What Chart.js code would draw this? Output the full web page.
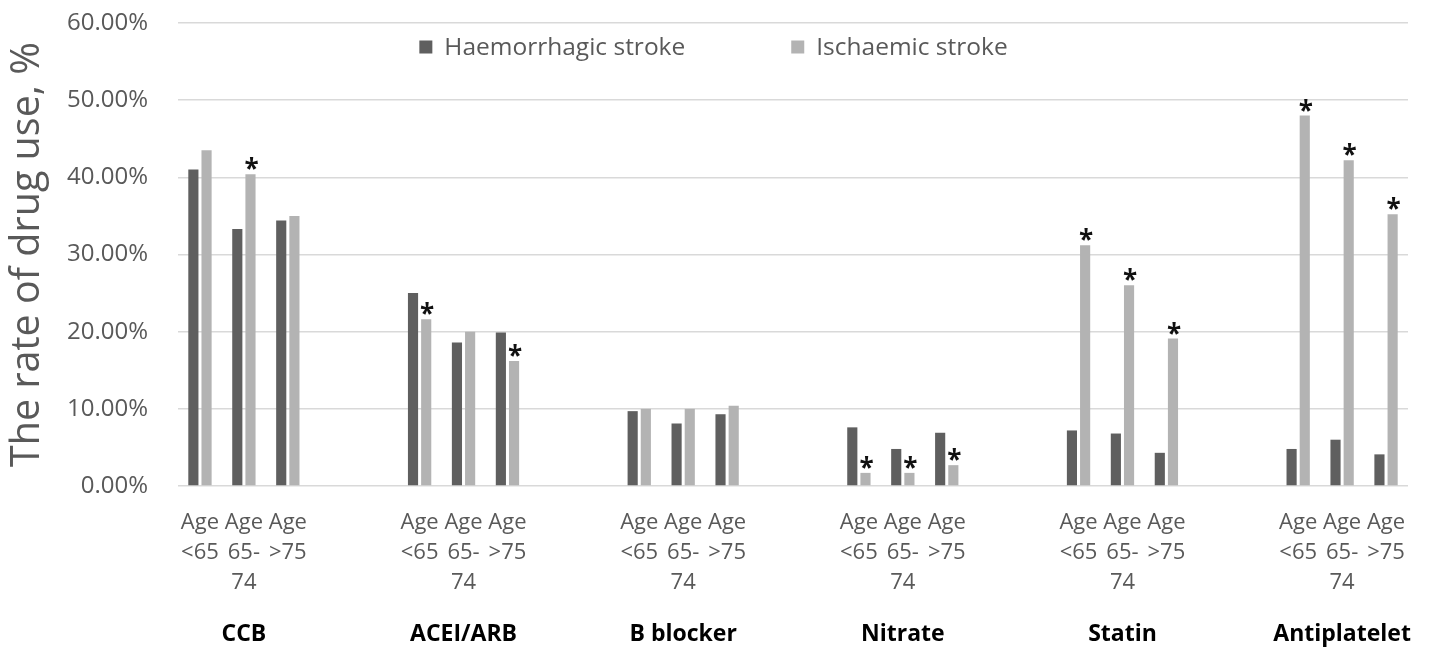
<!DOCTYPE html>
<html>
<head>
<meta charset="utf-8">
<script src="https://cdn.jsdelivr.net/npm/chart.js@4"></script>
<style>
  html, body { margin: 0; padding: 0; background: #fff; }
  #wrap { width: 1441px; height: 648px; }
</style>
</head>
<body>
<div id="wrap"><canvas id="myChart"></canvas></div>
<script>
// drug classes and age bands
const groups = ['CCB', 'ACEI/ARB', 'B blocker', 'Nitrate', 'Statin', 'Antiplatelet'];
const ageLabels = [['Age', '<65'], ['Age', '65-', '74'], ['Age', '>75']];

// rate of drug use (%) per group, per age band
const haemorrhagic = [
  [41.0, 33.3, 34.4],
  [25.0, 18.6, 19.9],
  [9.7, 8.1, 9.3],
  [7.6, 4.8, 6.9],
  [7.2, 6.8, 4.3],
  [4.8, 6.0, 4.1]
];
const ischaemic = [
  [43.5, 40.4, 35.0],
  [21.6, 20.0, 16.2],
  [10.0, 10.0, 10.4],
  [1.7, 1.7, 2.7],
  [31.2, 26.0, 19.1],
  [48.0, 42.2, 35.2]
];
// * marks on the ischaemic bars
const significant = [
  [0, 1, 0],
  [1, 0, 1],
  [0, 0, 0],
  [1, 1, 1],
  [1, 1, 1],
  [1, 1, 1]
];
const yMax = 60;
const yStep = 10;

const FONT = "'Open Sans', sans-serif";
const GREY_TEXT = '#595959';

// flatten, leaving two empty slots between groups
let xLabels = [], groupLabels = [], hData = [], iData = [], sigFlat = [];
groups.forEach((g, gi) => {
  ageLabels.forEach((a, ai) => {
    xLabels.push(a);
    groupLabels.push(ai === 1 ? g : '');
    hData.push(haemorrhagic[gi][ai]);
    iData.push(ischaemic[gi][ai]);
    sigFlat.push(significant[gi][ai]);
  });
  if (gi < groups.length - 1) {
    for (let k = 0; k < 2; k++) {
      xLabels.push('');
      groupLabels.push('');
      hData.push(null);
      iData.push(null);
      sigFlat.push(0);
    }
  }
});

const starPlugin = {
  id: 'stars',
  afterDatasetsDraw(chart) {
    const ctx = chart.ctx;
    const meta = chart.getDatasetMeta(1);
    ctx.save();
    ctx.font = 'bold 26px ' + FONT;
    ctx.fillStyle = '#111';
    ctx.textAlign = 'center';
    ctx.textBaseline = 'alphabetic';
    const m = ctx.measureText('*');
    meta.data.forEach((bar, i) => {
      if (!sigFlat[i] || iData[i] == null) return;
      ctx.fillText('*', bar.x + 1, bar.y - 4 - m.actualBoundingBoxDescent);
    });
    ctx.restore();
  }
};

const legendPlugin = {
  id: 'innerLegend',
  afterDraw(chart) {
    const ctx = chart.ctx;
    const box = 13, textGap = 12, itemGap = 106;
    ctx.save();
    ctx.font = '24.5px ' + FONT;
    const items = chart.data.datasets.map(d => ({
      label: d.label, color: d.backgroundColor, w: ctx.measureText(d.label).width
    }));
    let total = items.reduce((s, it) => s + box + textGap + it.w, 0) + itemGap * (items.length - 1);
    let x = chart.width / 2 - 7 - total / 2;
    const y = chart.chartArea.top + 24;
    ctx.textBaseline = 'middle';
    items.forEach(it => {
      ctx.fillStyle = it.color;
      ctx.fillRect(x, y - box / 2, box, box);
      ctx.fillStyle = GREY_TEXT;
      ctx.fillText(it.label, x + box + textGap, y + 1);
      x += box + textGap + it.w + itemGap;
    });
    ctx.restore();
  }
};

const ctx = document.getElementById('myChart').getContext('2d');
const myChart = new Chart(ctx, {
  type: 'bar',
  data: {
    labels: xLabels,
    datasets: [
      {
        label: 'Haemorrhagic stroke',
        data: hData,
        backgroundColor: '#5f5f5f',
        categoryPercentage: 0.6,
        barPercentage: 0.77
      },
      {
        label: 'Ischaemic stroke',
        data: iData,
        backgroundColor: '#b3b3b3',
        categoryPercentage: 0.6,
        barPercentage: 0.77
      }
    ]
  },
  options: {
    responsive: true,
    maintainAspectRatio: false,
    animation: false,
    layout: { padding: { top: 23, right: 33, left: 0, bottom: 0 } },
    plugins: {
      legend: { display: false },
      tooltip: { enabled: false }
    },
    scales: {
      x: {
        offset: true,
        grid: { display: false, drawTicks: false },
        border: { display: false },
        ticks: {
          autoSkip: false,
          maxRotation: 0,
          minRotation: 0,
          padding: 22,
          color: GREY_TEXT,
          font: { family: FONT, size: 22, lineHeight: 1.36 }
        },
        afterFit(s) { s.height = 112; }
      },
      x2: {
        type: 'category',
        position: 'bottom',
        labels: groupLabels,
        offset: true,
        grid: { display: false, drawTicks: false },
        border: { display: false },
        ticks: {
          autoSkip: false,
          maxRotation: 0,
          minRotation: 0,
          padding: 23,
          color: '#000',
          font: { family: FONT, size: 23, weight: 'bold', lineHeight: 1.2 }
        },
        afterFit(s) { s.height = 50; }
      },
      y: {
        min: 0,
        max: yMax,
        ticks: {
          stepSize: yStep,
          padding: 30,
          color: GREY_TEXT,
          font: { family: FONT, size: 24 },
          callback: v => v.toFixed(2) + '%'
        },
        grid: { color: '#d9d9d9', lineWidth: 1.5, drawTicks: false },
        border: { display: false },
        title: {
          display: true,
          text: 'The rate of drug use, %',
          color: GREY_TEXT,
          font: { family: FONT, size: 39.5 },
          padding: { top: 4, bottom: 0 }
        },
        afterFit(s) {
          s.width = 178;
          s.paddingTop = 14;
          s.paddingBottom = 14;
        }
      }
    }
  },
  plugins: [starPlugin, legendPlugin]
});
</script>
</body>
</html>
